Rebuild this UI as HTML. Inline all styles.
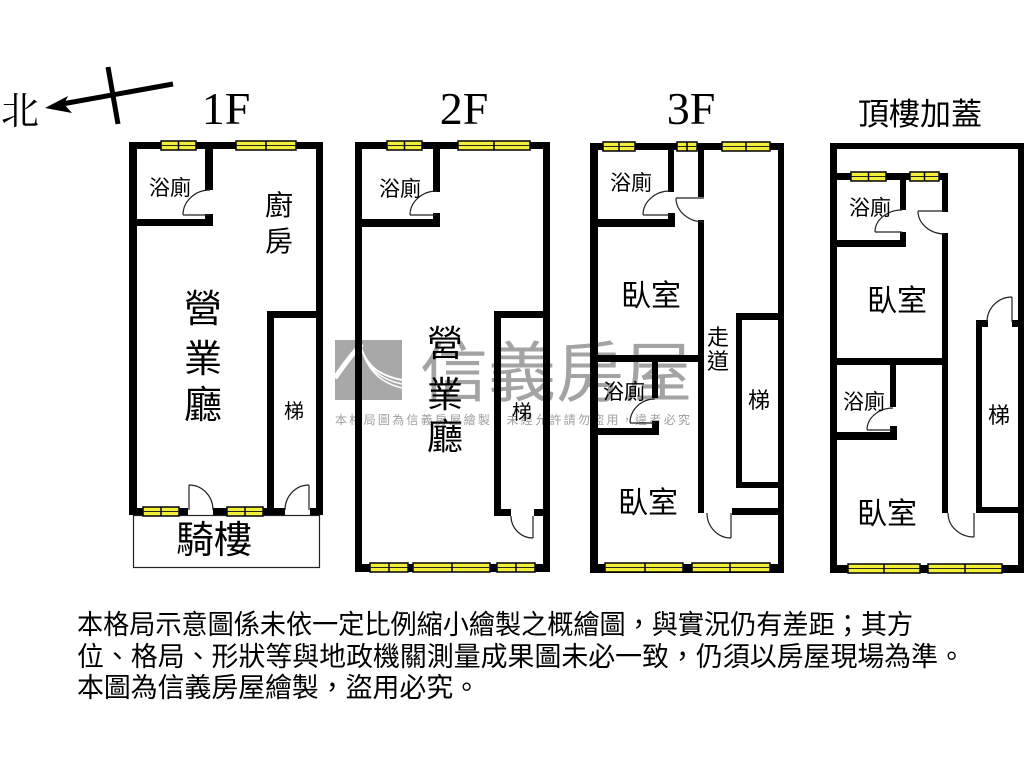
<!DOCTYPE html>
<html>
<head>
<meta charset="utf-8">
<style>
html,body{margin:0;padding:0;background:#fff;}
svg{display:block;}
.t{font-family:"Liberation Sans","Noto Sans CJK TC",sans-serif;fill:#000;text-anchor:middle;}
.w rect{fill:#000;}
.win rect{fill:#f2ee3a;stroke:#000;stroke-width:1.5;}
.win line{stroke:#222;stroke-width:1;}
.d{fill:none;stroke:#222;stroke-width:1.2;}
</style>
</head>
<body>
<svg width="1024" height="768" viewBox="0 0 1024 768" xmlns="http://www.w3.org/2000/svg">
<rect x="0" y="0" width="1024" height="768" fill="#fff"/>

<!-- watermark -->
<g>
  <rect x="335" y="340" width="67" height="60" fill="#a8a8a8"/>
  <path d="M335,378 Q350,356 362,344" stroke="#fff" stroke-width="5" fill="none"/>
  <path d="M360,344 C366,368 382,376 402,380" stroke="#fff" stroke-width="2" fill="none"/>
  <path d="M362,350 C369,372 384,380 402,384" stroke="#fff" stroke-width="1.5" fill="none"/>
  <path d="M364,356 C372,376 386,384 402,388" stroke="#fff" stroke-width="1.5" fill="none"/>
  <text x="420" y="396" font-size="66" textLength="272" lengthAdjust="spacingAndGlyphs" style="font-family:'Liberation Sans','Noto Sans CJK TC',sans-serif;fill:#a3a3a3;">信義房屋</text>
  <text x="335" y="424" font-size="12" textLength="355" lengthAdjust="spacing" style="font-family:'Liberation Sans','Noto Sans CJK TC',sans-serif;fill:#a0a0a0;">本格局圖為信義房屋繪製，未經允許請勿盜用，違者必究</text>
</g>

<!-- north arrow -->
<text x="20" y="124" font-size="38" style="font-family:'Liberation Serif','Noto Serif CJK SC',serif;text-anchor:middle;fill:#000;">北</text>
<line x1="173" y1="84" x2="62" y2="104" stroke="#000" stroke-width="5"/>
<polygon points="45,108 68,96 64,104 72,113" fill="#000"/>
<line x1="108" y1="67" x2="118" y2="124" stroke="#000" stroke-width="5"/>

<!-- floor titles -->
<g style="font-family:'Liberation Serif',serif;fill:#000;text-anchor:middle;" font-size="46">
  <text x="226" y="124">1F</text>
  <text x="464" y="124">2F</text>
  <text x="691" y="124">3F</text>
</g>
<text class="t" x="920" y="125" font-size="31">頂樓加蓋</text>

<!-- ============ 1F ============ -->
<g class="w">
  <rect x="129" y="142" width="194" height="7"/>
  <rect x="129" y="142" width="8" height="373"/>
  <rect x="316" y="142" width="7" height="373"/>
  <rect x="129" y="508" width="59" height="7"/>
  <rect x="213" y="508" width="72" height="7"/>
  <rect x="310" y="508" width="13" height="7"/>
  <rect x="205" y="149" width="8" height="41"/>
  <rect x="205" y="214" width="8" height="12"/>
  <rect x="137" y="219" width="76" height="7"/>
  <rect x="267" y="311" width="7" height="204"/>
  <rect x="267" y="311" width="56" height="7"/>
</g>
<rect x="133.5" y="515.5" width="186" height="52" fill="none" stroke="#222" stroke-width="1.2"/>
<g class="win">
  <rect x="161" y="141" width="35" height="9"/><line x1="161" y1="145.5" x2="196" y2="145.5"/><line x1="178.5" y1="141" x2="178.5" y2="150" style="stroke:#000;stroke-width:1.5"/>
  <rect x="236" y="141" width="60" height="9"/><line x1="236" y1="145.5" x2="296" y2="145.5"/><line x1="266" y1="141" x2="266" y2="150" style="stroke:#000;stroke-width:1.5"/>
  <rect x="143" y="507" width="36" height="9"/><line x1="143" y1="511.5" x2="179" y2="511.5"/><line x1="161" y1="507" x2="161" y2="516" style="stroke:#000;stroke-width:1.5"/>
  <rect x="227" y="507" width="36" height="9"/><line x1="227" y1="511.5" x2="263" y2="511.5"/><line x1="245" y1="507" x2="245" y2="516" style="stroke:#000;stroke-width:1.5"/>
</g>
<line class="d" x1="183" y1="215" x2="210" y2="215"/>
<path class="d" d="M183,215 A27,25 0 0 1 210,190"/>
<line class="d" x1="189" y1="485" x2="189" y2="510"/>
<path class="d" d="M189,485 A24,25 0 0 1 213,510"/>
<line class="d" x1="309" y1="485" x2="309" y2="510"/>
<path class="d" d="M309,485 A24,25 0 0 0 285,510"/>
<text class="t" x="170" y="195" font-size="21">浴廁</text>
<text class="t" x="279" y="215" font-size="28">廚</text>
<text class="t" x="279" y="251" font-size="28">房</text>
<text class="t" x="203" y="322" font-size="38">營</text>
<text class="t" x="203" y="372" font-size="38">業</text>
<text class="t" x="203" y="418" font-size="38">廳</text>
<text class="t" x="294" y="418" font-size="20">梯</text>
<text class="t" x="214" y="553" font-size="38">騎樓</text>

<!-- ============ 2F ============ -->
<g class="w">
  <rect x="355" y="142" width="195" height="7"/>
  <rect x="355" y="142" width="7" height="430"/>
  <rect x="543" y="142" width="7" height="430"/>
  <rect x="355" y="564" width="195" height="8"/>
  <rect x="433" y="149" width="7" height="43"/>
  <rect x="433" y="213" width="7" height="8"/>
  <rect x="362" y="219" width="78" height="8"/>
  <rect x="494" y="311" width="7" height="205"/>
  <rect x="494" y="311" width="56" height="7"/>
  <rect x="494" y="509" width="17" height="7"/>
  <rect x="534" y="509" width="16" height="7"/>
</g>
<g class="win">
  <rect x="387" y="141" width="35" height="9"/><line x1="387" y1="145.5" x2="422" y2="145.5"/><line x1="404.5" y1="141" x2="404.5" y2="150" style="stroke:#000;stroke-width:1.5"/>
  <rect x="458" y="141" width="72" height="9"/><line x1="458" y1="145.5" x2="530" y2="145.5"/><line x1="494" y1="141" x2="494" y2="150" style="stroke:#000;stroke-width:1.5"/>
  <rect x="370" y="563" width="38" height="9"/><line x1="370" y1="567.5" x2="408" y2="567.5"/><line x1="389" y1="563" x2="389" y2="572" style="stroke:#000;stroke-width:1.5"/>
  <rect x="413" y="563" width="77" height="9"/><line x1="413" y1="567.5" x2="490" y2="567.5"/><line x1="452" y1="563" x2="452" y2="572" style="stroke:#000;stroke-width:1.5"/>
  <rect x="497" y="563" width="38" height="9"/><line x1="497" y1="567.5" x2="535" y2="567.5"/><line x1="516" y1="563" x2="516" y2="572" style="stroke:#000;stroke-width:1.5"/>
</g>
<line class="d" x1="410" y1="215" x2="437" y2="215"/>
<path class="d" d="M410,215 A27,24 0 0 1 437,191"/>
<line class="d" x1="533" y1="516" x2="533" y2="538"/>
<path class="d" d="M511,516 A22,22 0 0 0 533,538"/>
<text class="t" x="400" y="196" font-size="21">浴廁</text>
<text class="t" x="445" y="356" font-size="36">營</text>
<text class="t" x="445" y="407" font-size="36">業</text>
<text class="t" x="445" y="449" font-size="36">廳</text>
<text class="t" x="522" y="419" font-size="20">梯</text>

<!-- ============ 3F ============ -->
<g class="w">
  <rect x="590" y="143" width="194" height="7"/>
  <rect x="590" y="143" width="8" height="430"/>
  <rect x="778" y="143" width="6" height="430"/>
  <rect x="590" y="564" width="194" height="9"/>
  <rect x="668" y="150" width="6" height="42"/>
  <rect x="668" y="213" width="7" height="8"/>
  <rect x="598" y="219" width="77" height="8"/>
  <rect x="698" y="150" width="6" height="47"/>
  <rect x="698" y="220" width="6" height="293"/>
  <rect x="598" y="355" width="106" height="7"/>
  <rect x="652" y="362" width="6" height="36"/>
  <rect x="652" y="421" width="7" height="8"/>
  <rect x="598" y="428" width="61" height="7"/>
  <rect x="736" y="313" width="6" height="175"/>
  <rect x="736" y="313" width="48" height="7"/>
  <rect x="736" y="482" width="48" height="6"/>
  <rect x="732" y="508" width="52" height="7"/>
</g>
<g class="win">
  <rect x="603" y="142" width="32" height="9"/><line x1="603" y1="146.5" x2="635" y2="146.5"/><line x1="619" y1="142" x2="619" y2="151" style="stroke:#000;stroke-width:1.5"/>
  <rect x="677" y="142" width="20" height="9"/><line x1="677" y1="146.5" x2="697" y2="146.5"/><line x1="687" y1="142" x2="687" y2="151" style="stroke:#000;stroke-width:1.5"/>
  <rect x="722" y="142" width="48" height="9"/><line x1="722" y1="146.5" x2="770" y2="146.5"/><line x1="746" y1="142" x2="746" y2="151" style="stroke:#000;stroke-width:1.5"/>
  <rect x="605" y="563" width="78" height="9"/><line x1="605" y1="567.5" x2="683" y2="567.5"/><line x1="645" y1="563" x2="645" y2="572" style="stroke:#000;stroke-width:1.5"/>
  <rect x="692" y="563" width="78" height="9"/><line x1="692" y1="567.5" x2="770" y2="567.5"/><line x1="730" y1="563" x2="730" y2="572" style="stroke:#000;stroke-width:1.5"/>
</g>
<line class="d" x1="643" y1="215" x2="670" y2="215"/>
<path class="d" d="M643,215 A27,24 0 0 1 670,191"/>
<line class="d" x1="676" y1="198" x2="704" y2="198"/>
<path class="d" d="M676,198 A28,24 0 0 0 704,222"/>
<line class="d" x1="630" y1="423" x2="655" y2="423"/>
<path class="d" d="M630,423 A25,24 0 0 1 655,399"/>
<line class="d" x1="731" y1="513" x2="731" y2="538"/>
<path class="d" d="M707,513 A24,25 0 0 0 731,538"/>
<text class="t" x="631" y="190" font-size="21">浴廁</text>
<text class="t" x="651" y="306" font-size="30">臥室</text>
<text class="t" x="718" y="345" font-size="22">走</text>
<text class="t" x="718" y="369" font-size="22">道</text>
<text class="t" x="624" y="399" font-size="21">浴廁</text>
<text class="t" x="759" y="408" font-size="22">梯</text>
<text class="t" x="648" y="513" font-size="30">臥室</text>

<!-- ============ Roof ============ -->
<g class="w">
  <rect x="830" y="143" width="194" height="6"/>
  <rect x="830" y="143" width="7" height="430"/>
  <rect x="1018" y="143" width="6" height="430"/>
  <rect x="830" y="565" width="194" height="8"/>
  <rect x="837" y="173" width="111" height="7"/>
  <rect x="900" y="180" width="6" height="30"/>
  <rect x="942" y="173" width="6" height="39"/>
  <rect x="942" y="233" width="6" height="280"/>
  <rect x="900" y="232" width="6" height="10"/>
  <rect x="837" y="240" width="69" height="7"/>
  <rect x="837" y="358" width="111" height="7"/>
  <rect x="890" y="365" width="6" height="42"/>
  <rect x="890" y="426" width="7" height="8"/>
  <rect x="837" y="432" width="60" height="8"/>
  <rect x="976" y="320" width="6" height="193"/>
  <rect x="976" y="320" width="12" height="7"/>
  <rect x="1012" y="320" width="6" height="7"/>
  <rect x="976" y="507" width="48" height="6"/>
</g>
<g class="win">
  <rect x="851" y="172" width="35" height="9"/><line x1="851" y1="176.5" x2="886" y2="176.5"/><line x1="868.5" y1="172" x2="868.5" y2="181" style="stroke:#000;stroke-width:1.5"/>
  <rect x="910" y="172" width="29" height="9"/><line x1="910" y1="176.5" x2="939" y2="176.5"/><line x1="924.5" y1="172" x2="924.5" y2="181" style="stroke:#000;stroke-width:1.5"/>
  <rect x="848" y="564" width="72" height="9"/><line x1="848" y1="568.5" x2="920" y2="568.5"/><line x1="884" y1="564" x2="884" y2="573" style="stroke:#000;stroke-width:1.5"/>
  <rect x="928" y="564" width="74" height="9"/><line x1="928" y1="568.5" x2="1002" y2="568.5"/><line x1="965" y1="564" x2="965" y2="573" style="stroke:#000;stroke-width:1.5"/>
</g>
<line class="d" x1="875" y1="232" x2="902" y2="232"/>
<path class="d" d="M875,232 A27,22 0 0 1 902,210"/>
<line class="d" x1="918" y1="211" x2="945" y2="211"/>
<path class="d" d="M918,211 A27,23 0 0 0 945,234"/>
<line class="d" x1="867" y1="430" x2="893" y2="430"/>
<path class="d" d="M867,430 A26,22 0 0 1 893,408"/>
<line class="d" x1="1012" y1="297" x2="1012" y2="322"/>
<path class="d" d="M1012,297 A25,25 0 0 0 987,322"/>
<line class="d" x1="974" y1="513" x2="974" y2="537"/>
<path class="d" d="M948,513 A26,24 0 0 0 974,537"/>
<text class="t" x="870" y="215" font-size="21">浴廁</text>
<text class="t" x="897" y="311" font-size="30">臥室</text>
<text class="t" x="864" y="409" font-size="21">浴廁</text>
<text class="t" x="999" y="423" font-size="22">梯</text>
<text class="t" x="887" y="524" font-size="30">臥室</text>

<!-- disclaimer -->
<g style="font-family:'Liberation Sans','Noto Sans CJK TC',sans-serif;fill:#000;" font-size="27">
  <text x="77" y="634" textLength="836" lengthAdjust="spacingAndGlyphs">本格局示意圖係未依一定比例縮小繪製之概繪圖，與實況仍有差距；其方</text>
  <text x="77" y="666" textLength="888" lengthAdjust="spacingAndGlyphs">位、格局、形狀等與地政機關測量成果圖未必一致，仍須以房屋現場為準。</text>
  <text x="77" y="697" textLength="403" lengthAdjust="spacingAndGlyphs">本圖為信義房屋繪製，盜用必究。</text>
</g>
</svg>
</body>
</html>
